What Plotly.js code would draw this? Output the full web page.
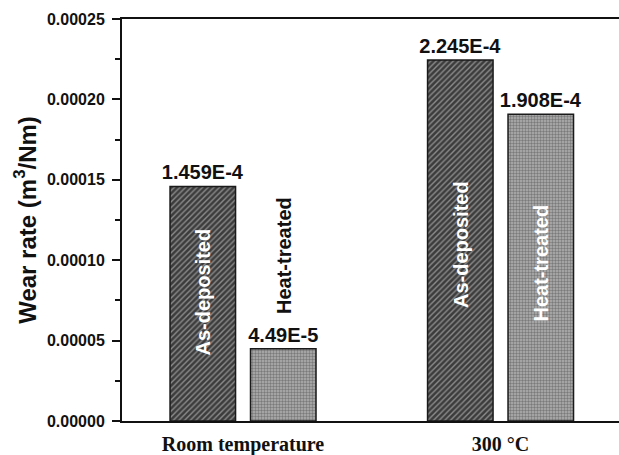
<!DOCTYPE html>
<html><head><meta charset="utf-8">
<script src="https://cdn.plot.ly/plotly-3.0.1.min.js"></script>
<style>html,body{margin:0;padding:0;background:#fff}#chart{width:619px;height:455px}</style>
</head><body><div id="chart"></div>
<script>
const categories = ['Room temperature', '300 °C'];
const asDeposited = [1.459e-4, 2.245e-4];
const heatTreated = [4.49e-5, 1.908e-4];
const asDepositedLabels = ['1.459E-4', '2.245E-4'];
const heatTreatedLabels = ['4.49E-5', '1.908E-4'];
const seriesNames = ['As-deposited', 'Heat-treated'];

const valFont = {family: 'Liberation Sans, Arial, sans-serif', size: 20, color: '#111', weight: 'bold'};

const traces = [
  {type: 'bar', x: categories, y: asDeposited, name: seriesNames[0],
   text: asDepositedLabels, textposition: 'outside', textfont: valFont, cliponaxis: false,
   constraintext: 'none',
   marker: {color: '#3f3f3f', line: {color: '#1a1a1a', width: 1.5},
            pattern: {shape: '/', fgcolor: '#8c8c8c', bgcolor: '#3c3c3c', size: 4, solidity: 0.35}}},
  {type: 'bar', x: categories, y: heatTreated, name: seriesNames[1],
   text: heatTreatedLabels, textposition: 'outside', textfont: valFont, cliponaxis: false,
   constraintext: 'none',
   marker: {color: '#a0a0a0', line: {color: '#1a1a1a', width: 1.5},
            pattern: {shape: '.', fgcolor: '#7a7a7a', bgcolor: '#b2b2b2', size: 3, solidity: 0.5}}}
];

// rotated series labels
const inLabelY = [[8.04e-5, 1.096e-4], [1.028e-4, 9.84e-5]];
const inLabelColor = [['#ffffff', '#ffffff'], ['#111111', '#ffffff']];
const annotations = [];
for (let s = 0; s < 2; s++) {
  for (let c = 0; c < categories.length; c++) {
    annotations.push({
      x: categories[c], y: inLabelY[s][c], xref: 'x', yref: 'y',
      xshift: s === 0 ? -40.25 : 40.25,
      text: seriesNames[s], textangle: -90, showarrow: false,
      font: {family: 'Liberation Sans, Arial, sans-serif', size: 20, color: inLabelColor[s][c], weight: 'bold'}
    });
  }
}

const layout = {
  width: 619, height: 455,
  margin: {l: 122, r: 0, t: 19, b: 33.5},
  paper_bgcolor: '#ffffff', plot_bgcolor: '#ffffff',
  showlegend: false,
  barmode: 'group', bargap: 0.375, bargroupgap: 0.186,
  xaxis: {
    type: 'category', range: [-0.47, 1.46],
    showline: true, linecolor: '#111', linewidth: 2, mirror: true,
    ticks: '', showgrid: false, zeroline: false,
    tickfont: {family: 'Liberation Serif, Times New Roman, serif', size: 20, color: '#111', weight: 'bold'},
    ticklabelstandoff: 4
  },
  yaxis: {
    range: [0, 0.00025], dtick: 0.00005, tick0: 0, tickformat: '.5f',
    showline: true, linecolor: '#111', linewidth: 2,
    ticks: 'outside', ticklen: 8, tickwidth: 2, tickcolor: '#111',
    minor: {ticks: 'outside', ticklen: 5, tickwidth: 2, tickcolor: '#111', dtick: 0.000025, showgrid: false},
    showgrid: false, zeroline: false,
    tickfont: {family: 'Liberation Sans, Arial, sans-serif', size: 16, color: '#111', weight: 'bold'},
    ticklabelstandoff: 4,
    title: {text: 'Wear rate (m<sup>3</sup>/Nm)', standoff: 4,
            font: {family: 'Liberation Sans, Arial, sans-serif', size: 24, color: '#111', weight: 'bold'}}
  },
  annotations: annotations
};

Plotly.newPlot('chart', traces, layout, {displayModeBar: false, staticPlot: true});
</script></body></html>
